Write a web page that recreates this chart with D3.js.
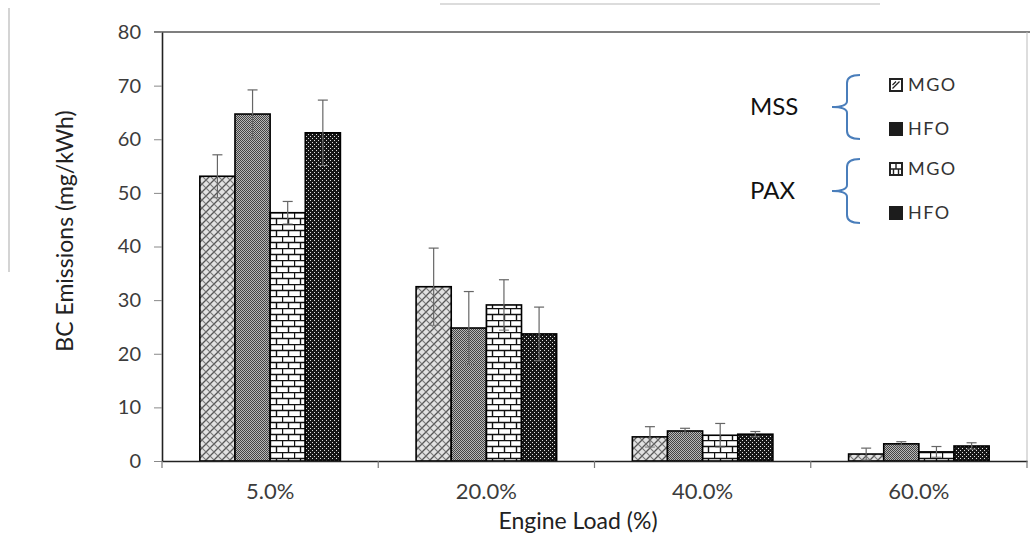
<!DOCTYPE html>
<html>
<head>
<meta charset="utf-8">
<script src="https://cdn.jsdelivr.net/npm/d3@7"></script>
<style>
  body { margin: 0; background: #fff; }
  text { font-family: Lato, "Open Sans", sans-serif; }
</style>
</head>
<body>
<div id="chart"></div>
<script>
// chart data
var categories = ["5.0%", "20.0%", "40.0%", "60.0%"];
var seriesNames = ["MSS MGO", "MSS HFO", "PAX MGO", "PAX HFO"];
var mssMgo = [53.1, 32.5, 4.5, 1.3];
var mssHfo = [64.7, 24.8, 5.6, 3.2];
var paxMgo = [46.3, 29.1, 4.8, 1.7];
var paxHfo = [61.2, 23.7, 5.0, 2.8];
var mssMgoErr = [4.0, 7.2, 1.9, 1.1];
var mssHfoErr = [4.5, 6.8, 0.5, 0.4];
var paxMgoErr = [2.1, 4.7, 2.2, 1.0];
var paxHfoErr = [6.1, 5.0, 0.5, 0.6];
var yTicks = [0, 10, 20, 30, 40, 50, 60, 70, 80];
var legendGroups = ["MSS", "PAX"];
var legendFuels = ["MGO", "HFO"];

var svgWidth = 1030;
var svgHeight = 537;

var margin = {
  top: 32,
  right: 3,
  bottom: 76,
  left: 162
};

var width = svgWidth - margin.left - margin.right;
var height = svgHeight - margin.top - margin.bottom;

var svg = d3.select("#chart")
  .append("svg")
  .attr("width", svgWidth)
  .attr("height", svgHeight);

// fill patterns, one per series
var defs = svg.append("defs");

// MSS MGO: light diagonal weave
var p1 = defs.append("pattern").attr("id", "pat0")
  .attr("patternUnits", "userSpaceOnUse").attr("width", 8).attr("height", 8);
p1.append("rect").attr("width", 8).attr("height", 8).attr("fill", "#e2e2e2");
p1.append("path").attr("d", "M-2,2 L2,-2 M0,8 L8,0 M6,10 L10,6")
  .attr("stroke", "#555").attr("stroke-width", 1.3);
p1.append("path").attr("d", "M-2,6 L2,10 M0,0 L8,8 M6,-2 L10,2")
  .attr("stroke", "#777").attr("stroke-width", 1.1);

// MSS HFO: fine gray checker
var p2 = defs.append("pattern").attr("id", "pat1")
  .attr("patternUnits", "userSpaceOnUse").attr("width", 2).attr("height", 2);
p2.append("rect").attr("width", 2).attr("height", 2).attr("fill", "#b8b8b8");
p2.append("rect").attr("width", 1).attr("height", 1).attr("fill", "#444");
p2.append("rect").attr("x", 1).attr("y", 1).attr("width", 1).attr("height", 1).attr("fill", "#444");

// PAX MGO: bricks
var p3 = defs.append("pattern").attr("id", "pat2")
  .attr("patternUnits", "userSpaceOnUse").attr("width", 12).attr("height", 12);
p3.append("rect").attr("width", 12).attr("height", 12).attr("fill", "#fff");
p3.append("path").attr("d", "M0,0.5 H12 M0,6.5 H12 M0.5,0 V6 M6.5,6 V12")
  .attr("stroke", "#111").attr("stroke-width", 1.4);

// PAX HFO: black with white dots
var p4 = defs.append("pattern").attr("id", "pat3")
  .attr("patternUnits", "userSpaceOnUse").attr("width", 4).attr("height", 4);
p4.append("rect").attr("width", 4).attr("height", 4).attr("fill", "#161616");
p4.append("rect").attr("width", 1).attr("height", 1).attr("fill", "#e0e0e0");
p4.append("rect").attr("x", 2).attr("y", 2).attr("width", 1).attr("height", 1).attr("fill", "#e0e0e0");

// faint scan border lines
svg.append("line").attr("x1", 9).attr("x2", 9).attr("y1", 8).attr("y2", 272)
  .attr("stroke", "#d4d4d4").attr("stroke-width", 2);
svg.append("line").attr("x1", 440).attr("x2", 880).attr("y1", 4).attr("y2", 4)
  .attr("stroke", "#dcdcdc").attr("stroke-width", 2);

var chartGroup = svg.append("g")
  .attr("transform", `translate(${margin.left}, ${margin.top})`);

// scales
var xCat = d3.scaleBand()
  .domain(categories)
  .range([0, width])
  .padding(0);

var groupPad = xCat.bandwidth() * 0.175;
var xBar = d3.scaleBand()
  .domain(seriesNames)
  .range([groupPad, xCat.bandwidth() - groupPad])
  .padding(0);

var yLinearScale = d3.scaleLinear()
  .domain([0, 80])
  .range([height, 0]);

// plot frame (top and right)
chartGroup.append("line")
  .attr("x1", -8).attr("x2", svgWidth - margin.left)
  .attr("y1", 0).attr("y2", 0)
  .attr("stroke", "#555").attr("stroke-width", 1.5);
chartGroup.append("line")
  .attr("x1", width).attr("x2", width)
  .attr("y1", 0).attr("y2", height)
  .attr("stroke", "#bbb").attr("stroke-width", 1);

// bars
var values = [mssMgo, mssHfo, paxMgo, paxHfo];
var errors = [mssMgoErr, mssHfoErr, paxMgoErr, paxHfoErr];
var barData = [];
categories.forEach(function(c, i) {
  seriesNames.forEach(function(s, j) {
    barData.push({ cat: c, series: s, idx: j, value: values[j][i], err: errors[j][i] });
  });
});

chartGroup.selectAll("rect.bar")
  .data(barData)
  .enter()
  .append("rect")
  .attr("class", "bar")
  .attr("x", d => xCat(d.cat) + xBar(d.series))
  .attr("y", d => yLinearScale(d.value))
  .attr("width", xBar.bandwidth())
  .attr("height", d => height - yLinearScale(d.value))
  .attr("fill", d => `url(#pat${d.idx})`)
  .attr("stroke", "#000")
  .attr("stroke-width", 1.6);

// error bars
var errGroup = chartGroup.selectAll("g.err")
  .data(barData)
  .enter()
  .append("g")
  .attr("class", "err")
  .attr("transform", d => `translate(${xCat(d.cat) + xBar(d.series) + xBar.bandwidth() / 2}, 0)`);

errGroup.append("line")
  .attr("y1", d => yLinearScale(d.value + d.err))
  .attr("y2", d => yLinearScale(d.value - d.err))
  .attr("stroke", "#666").attr("stroke-width", 1.2);
errGroup.append("line")
  .attr("x1", -5).attr("x2", 5)
  .attr("y1", d => yLinearScale(d.value + d.err))
  .attr("y2", d => yLinearScale(d.value + d.err))
  .attr("stroke", "#666").attr("stroke-width", 1.2);
errGroup.append("line")
  .attr("x1", -5).attr("x2", 5)
  .attr("y1", d => yLinearScale(d.value - d.err))
  .attr("y2", d => yLinearScale(d.value - d.err))
  .attr("stroke", "#777").attr("stroke-width", 1);

// axes
var leftAxis = d3.axisLeft(yLinearScale)
  .tickValues(yTicks)
  .tickSize(8)
  .tickSizeOuter(0)
  .tickPadding(13);

var yAxisG = chartGroup.append("g").call(leftAxis);
yAxisG.select(".domain").attr("stroke", "#222").attr("stroke-width", 1.6);
yAxisG.selectAll(".tick line").attr("stroke", "#888");
yAxisG.selectAll("text")
  .style("font-size", "20px")
  .attr("fill", "#3c3c3c");

var bottomAxis = d3.axisBottom(xCat)
  .tickSize(0)
  .tickSizeOuter(0)
  .tickPadding(22);

var xAxisG = chartGroup.append("g")
  .attr("transform", `translate(0, ${height})`)
  .call(bottomAxis);
xAxisG.select(".domain").attr("stroke", "#222").attr("stroke-width", 1.6);
xAxisG.selectAll("text")
  .style("font-size", "22px")
  .attr("fill", "#3c3c3c");

// category boundary ticks
var bounds = categories.map(c => xCat(c)).concat([width]);
xAxisG.selectAll("line.bound")
  .data(bounds)
  .enter()
  .append("line")
  .attr("class", "bound")
  .attr("x1", d => d).attr("x2", d => d)
  .attr("y1", 0).attr("y2", 7)
  .attr("stroke", "#777").attr("stroke-width", 1.2);

// axis titles
chartGroup.append("text")
  .attr("transform", "rotate(-90)")
  .attr("x", 0 - (231 - margin.top))
  .attr("y", 65 - margin.left)
  .attr("dy", "0.35em")
  .attr("text-anchor", "middle")
  .style("font-size", "23px")
  .attr("fill", "#222")
  .text("BC Emissions (mg/kWh)");

chartGroup.append("text")
  .attr("x", 578 - margin.left)
  .attr("y", 529 - margin.top)
  .attr("text-anchor", "middle")
  .style("font-size", "23px")
  .attr("fill", "#222")
  .text("Engine Load (%)");

// legend
var legendTop = [107, 191];
var legend = svg.append("g");

legendGroups.forEach(function(g, gi) {
  var cy = legendTop[gi];
  legend.append("text")
    .attr("x", 750)
    .attr("y", cy)
    .attr("dy", "0.35em")
    .style("font-size", "24px")
    .attr("fill", "#111")
    .text(g);

  // curly brace
  var bx = 847, tip = 832, arm = 860, h = 32;
  legend.append("path")
    .attr("d", `M${arm},${cy - h} Q${bx},${cy - h} ${bx},${cy - h + 8} L${bx},${cy - 6} Q${bx},${cy} ${tip},${cy} Q${bx},${cy} ${bx},${cy + 6} L${bx},${cy + h - 8} Q${bx},${cy + h} ${arm},${cy + h}`)
    .attr("fill", "none")
    .attr("stroke", "#4a7ebb")
    .attr("stroke-width", 2);

  legendFuels.forEach(function(f, fi) {
    var iy = cy - 22 + fi * 44;
    var sx = 889;
    var box = legend.append("g").attr("transform", `translate(${sx}, ${iy - 7})`);
    if (f === "HFO") {
      box.append("rect").attr("width", 14).attr("height", 14).attr("fill", "#1c1c1c");
    } else {
      box.append("rect").attr("x", 1).attr("y", 1).attr("width", 12).attr("height", 12)
        .attr("fill", "#fff").attr("stroke", "#222").attr("stroke-width", 2);
      if (g === "MSS") {
        box.append("path").attr("d", "M3.5,10.5 L10.5,3.5 M3.5,7 L7,3.5")
          .attr("stroke", "#222").attr("stroke-width", 1.3).attr("fill", "none");
      } else {
        box.append("path").attr("d", "M1,7 H13 M7,1 V7 M4.5,7 V13 M9.5,7 V13")
          .attr("stroke", "#222").attr("stroke-width", 1.4).attr("fill", "none");
      }
    }
    legend.append("text")
      .attr("x", 908)
      .attr("y", iy)
      .attr("dy", "0.35em")
      .style("font-size", "18px")
      .style("letter-spacing", "1.5px")
      .attr("fill", "#333")
      .text(f);
  });
});
</script>
</body>
</html>
